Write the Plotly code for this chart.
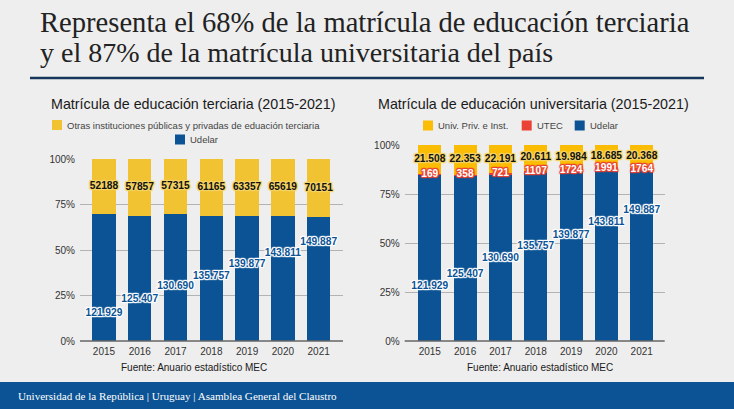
import plotly.graph_objects as go

years = ["2015", "2016", "2017", "2018", "2019", "2020", "2021"]
udelar = [121929, 125407, 130690, 135757, 139877, 143811, 149887]
otras = [52188, 57857, 57315, 61165, 63357, 65619, 70151]
univ_priv = [21508, 22353, 22191, 20611, 19984, 18685, 20368]
utec = [169, 358, 721, 1107, 1724, 1991, 1764]
# heights (in % of the axis) at which the Udelar labels sit in the picture
udelar_label_left = [15.2, 22.9, 29.7, 35.7, 41.8, 48.2, 54.0]
udelar_label_right = [28.0, 34.0, 42.3, 48.0, 54.0, 60.4, 66.5]

W, H = 734, 409
BLUE = "#0b5394"
YEL1 = "#f1c232"
YEL2 = "#fbbc04"
RED = "#ea4335"
BG = "#eeeeee"
SANS = "Liberation Sans, Arial, sans-serif"
SERIF = "Liberation Serif, serif"


def halo(c, r=1):
    return ", ".join(f"{x}px {y}px {r}px {c}" for x, y in
                     [(-1, 0), (1, 0), (0, -1), (0, 1), (-1, -1), (1, 1), (-1, 1), (1, -1)])


def dot(v):
    return f"{v:,}".replace(",", ".")


def fx(px):
    return px / W


def fy(py):
    return 1 - py / H


fig = go.Figure()
pos = list(range(7))


def bar(name, vals, color, xa, ya):
    fig.add_trace(go.Bar(x=pos, y=vals, name=name, xaxis=xa, yaxis=ya, showlegend=False,
                         marker=dict(color=color, line=dict(width=0))))


def labels(texts, ys, xa, ya, color, halo_c):
    fig.add_trace(go.Scatter(
        x=pos, y=ys, xaxis=xa, yaxis=ya, mode="text", showlegend=False,
        text=texts, textposition="middle center", cliponaxis=False,
        textfont=dict(family=SANS, size=10.2, color=color, weight="bold", shadow=halo(halo_c)),
    ))


totals_left = [a + b for a, b in zip(udelar, otras)]
totals_right = [a + b + c for a, b, c in zip(udelar, utec, univ_priv)]
otras_mid = [100 * (u + o / 2) / t for u, o, t in zip(udelar, otras, totals_left)]
utec_mid = [100 * (u + e / 2) / t for u, e, t in zip(udelar, utec, totals_right)]
priv_mid = [100 * (u + e + p / 2) / t for u, e, p, t in zip(udelar, utec, univ_priv, totals_right)]

# Left chart
bar("Udelar", udelar, BLUE, "x", "y")
bar("Otras instituciones públicas y privadas de eduación terciaria", otras, YEL1, "x", "y")
labels([str(v) for v in otras], otras_mid, "x", "y3", "#111111", "#f5d468")
labels([dot(v) for v in udelar], udelar_label_left, "x", "y3", BLUE, "#ffffff")

# Right chart
bar("Udelar", udelar, BLUE, "x2", "y2")
bar("UTEC", utec, RED, "x2", "y2")
bar("Univ. Priv. e Inst.", univ_priv, YEL2, "x2", "y2")
labels([dot(v) for v in univ_priv], priv_mid, "x2", "y4", "#111111", "#f5d468")
labels([str(v) for v in utec], utec_mid, "x2", "y4", "#ffffff", RED)
labels([dot(v) for v in udelar], udelar_label_right, "x2", "y4", BLUE, "#ffffff")

ax_common = dict(tickfont=dict(family=SANS, size=10, color="#333333"), showgrid=False, zeroline=False,
                 showline=False, ticks="", tickmode="array", tickvals=pos, ticktext=years,
                 ticklabelstandoff=3)
ay_common = dict(tickfont=dict(family=SANS, size=10, color="#333333"), tickmode="array",
                 tickvals=[0, 25, 50, 75, 100], ticktext=["0%", "25%", "50%", "75%", "100%"],
                 range=[0, 100], showgrid=True, gridcolor="#b3b3b3", gridwidth=1, zeroline=False,
                 showline=False, ticks="", fixedrange=True, ticklabelstandoff=4)
overlay = dict(range=[0, 100], visible=False, fixedrange=True)


def swatch(x, yc, color):
    return dict(type="rect", xref="paper", yref="paper", x0=fx(x), x1=fx(x + 10), y0=fy(yc + 5), y1=fy(yc - 5),
                fillcolor=color, line_width=0)


shapes = [
    dict(type="rect", xref="paper", yref="paper", x0=0, x1=1, y0=0, y1=fy(382), fillcolor=BLUE, line_width=0),
    dict(type="line", xref="paper", yref="paper", x0=fx(30), x1=fx(704), y0=fy(78), y1=fy(78),
         line=dict(color="#16365c", width=2.5)),
    dict(type="line", xref="paper", yref="paper", x0=fx(80), x1=fx(343), y0=fy(341), y1=fy(341),
         line=dict(color="#666666", width=1.3)),
    dict(type="line", xref="paper", yref="paper", x0=fx(404.7), x1=fx(664.7), y0=fy(341), y1=fy(341),
         line=dict(color="#666666", width=1.3)),
    swatch(52, 125, YEL1), swatch(175, 139.5, BLUE),
    swatch(423, 125.5, YEL2), swatch(521.7, 125.5, RED), swatch(574.7, 125.5, BLUE),
]


def note(txt, x, y, size, color="#1a1a1a", family=SANS, anchor="left"):
    return dict(text=txt, xref="paper", yref="paper", x=fx(x), y=fy(y), showarrow=False,
                xanchor=anchor, yanchor="middle", align=anchor, borderpad=0, borderwidth=0,
                font=dict(family=family, size=size, color=color))


annotations = [
    note("Representa el 68% de la matrícula de educación terciaria", 40, 22, 28.6, "#222222", SERIF),
    note("y el 87% de la matrícula universitaria del país", 40, 53, 28, "#222222", SERIF),
    note("Matrícula de educación terciaria (2015-2021)", 51, 104, 14.3),
    note("Matrícula de educación universitaria (2015-2021)", 378, 104, 14.3),
    note("Fuente: Anuario estadístico MEC", 193.7, 367, 10, anchor="center"),
    note("Fuente: Anuario estadístico MEC", 539.7, 367, 10, anchor="center"),
    note("Universidad de la República | Uruguay | Asamblea General del Claustro", 18, 395.5, 11.1, "#ffffff", SERIF),
    note("Otras instituciones públicas y privadas de eduación terciaria", 67, 125, 9.5, "#444444"),
    note("Udelar", 190, 139.5, 9.5, "#444444"),
    note("Univ. Priv. e Inst.", 438, 125.5, 9.5, "#444444"),
    note("UTEC", 537, 125.5, 9.5, "#444444"),
    note("Udelar", 590, 125.5, 9.5, "#444444"),
]

fig.update_layout(
    width=W, height=H, autosize=False, margin=dict(l=0, r=0, t=0, b=0, autoexpand=False),
    paper_bgcolor=BG, plot_bgcolor=BG, barmode="stack", barnorm="percent", bargap=0.35,
    showlegend=False, shapes=shapes, annotations=annotations,
    xaxis=dict(domain=[fx(80), fx(343)], range=[-0.67, 6.68], anchor="y", **ax_common),
    xaxis2=dict(domain=[fx(404.7), fx(664.7)], range=[-0.71, 6.65], anchor="y2", **ax_common),
    yaxis=dict(domain=[fy(341), fy(159)], anchor="x", **ay_common),
    yaxis2=dict(domain=[fy(341), fy(145)], anchor="x2", **ay_common),
    yaxis3=dict(domain=[fy(341), fy(159)], anchor="x", overlaying="y", **overlay),
    yaxis4=dict(domain=[fy(341), fy(145)], anchor="x2", overlaying="y2", **overlay),
)

fig.write_html("out.html", config=dict(displayModeBar=False),
               post_script="document.body.style.margin='0';")
